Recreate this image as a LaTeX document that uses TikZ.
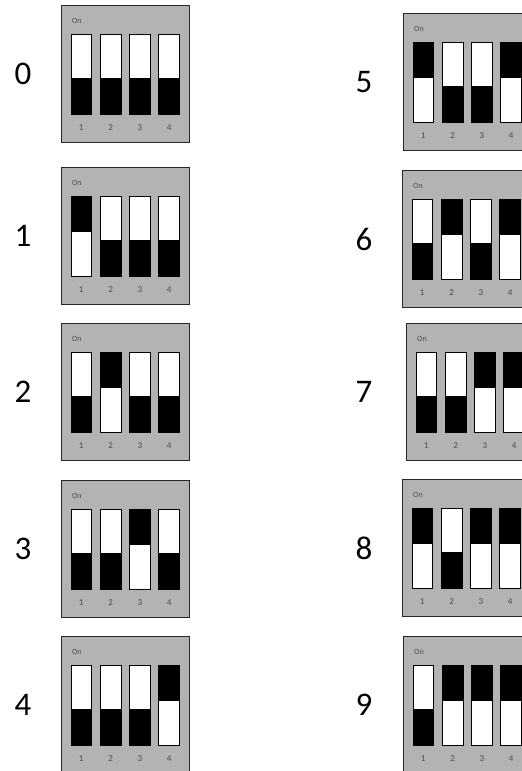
\documentclass[tikz,border=0pt]{standalone}
\usepackage{fontspec}
\setmainfont{Carlito}
\definecolor{boxgray}{RGB}{179,179,179}
\definecolor{numgray}{RGB}{75,75,75}
\tikzset{
  dipframe/.style={draw=black!85, line width=1.3pt, fill=boxgray, inner sep=0pt,
    minimum width=128pt, minimum height=137pt, anchor=north west},
  switchbody/.style={fill=white, inner sep=0pt, minimum width=20.5pt,
    minimum height=80pt, anchor=north west},
  switchedge/.style={draw=black, line width=0.9pt},
  bigdigit/.style={font=\fontsize{33}{33}\selectfont, inner sep=0pt},
  onlabel/.style={font=\fontsize{8}{8}\selectfont, text=numgray, inner sep=0pt, anchor=west},
  poslabel/.style={font=\fontsize{9}{9}\selectfont, text=numgray, inner sep=0pt},
}
% #1 digit, #2 x, #3 y, #4-#7 switch states (1=on), #8 label x
\newcommand{\dipbox}[8]{%
  \node[dipframe] (box#1) at (#2,#3) {};
  \node[onlabel] (on#1) at (#2+11,#3+16) {On};
  \node[bigdigit] (lab#1) at (#8,#3+69) {#1};
  \foreach \s [count=\i] in {#4,#5,#6,#7} {
    \pgfmathsetmacro\sx{#2+10+29.3*(\i-1)}
    \node[switchbody] (sw#1-\i) at (\sx,#3+29) {};
    \ifnum\s=1
      \fill[black] (sw#1-\i.north west) rectangle ([yshift=-36pt]sw#1-\i.north east);
    \else
      \fill[black] (sw#1-\i.south west) rectangle ([yshift=36pt]sw#1-\i.south east);
    \fi
    \draw[switchedge] (sw#1-\i.north west) rectangle (sw#1-\i.south east);
    \node[poslabel] (num#1-\i) at (\sx+10.25,#3+123) {\i};
  }%
}
\begin{document}
\begin{tikzpicture}[x=1pt,y=-1pt]
  \path[use as bounding box, clip] (0,0) rectangle (522,771);
  \fill[white] (0,0) rectangle (522,771);
  \dipbox{0}{61}{5}{0}{0}{0}{0}{23}
  \dipbox{1}{61}{167}{1}{0}{0}{0}{23}
  \dipbox{2}{61}{323}{0}{1}{0}{0}{23}
  \dipbox{3}{61}{480}{0}{0}{1}{0}{23}
  \dipbox{4}{61}{636}{0}{0}{0}{1}{23}
  \dipbox{5}{403}{13}{1}{0}{0}{1}{364}
  \dipbox{6}{402}{170}{0}{1}{0}{1}{364}
  \dipbox{7}{406}{323}{0}{0}{1}{1}{364}
  \dipbox{8}{402}{479}{1}{0}{1}{1}{364}
  \dipbox{9}{403}{636}{0}{1}{1}{1}{364}
\end{tikzpicture}
\end{document}
